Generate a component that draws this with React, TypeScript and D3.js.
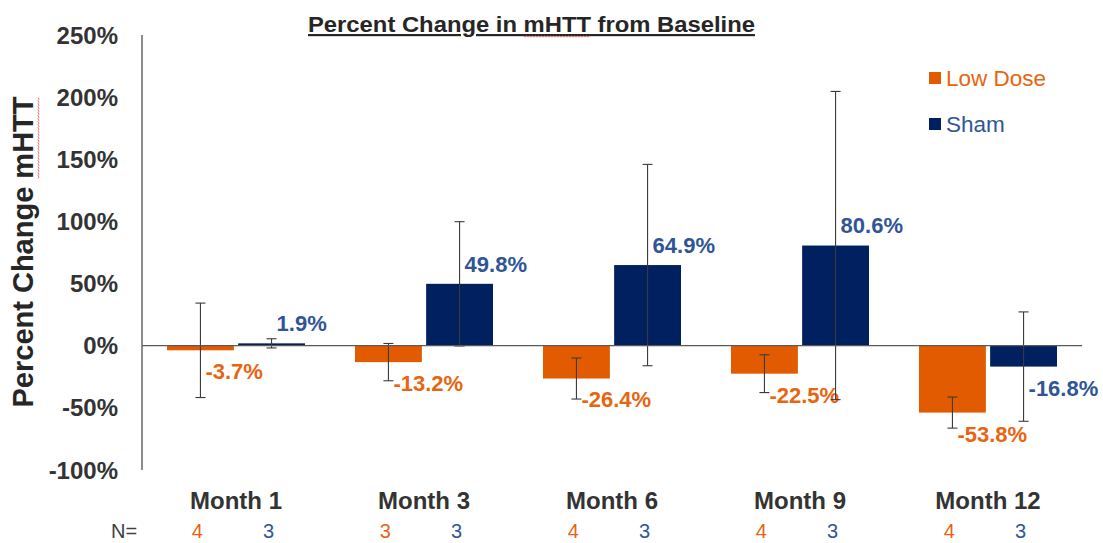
import React, { useEffect, useRef } from "react";
import * as d3 from "d3";

const months = ["Month 1", "Month 3", "Month 6", "Month 9", "Month 12"];
const seriesNames = ["Low Dose", "Sham"];
const lowDose = [-3.7, -13.2, -26.4, -22.5, -53.8];
const sham = [1.9, 49.8, 64.9, 80.6, -16.8];
const lowDoseErr = [38, 15, 16.5, 15.2, 12.5];
const shamErr = [3.7, 50, 81, 124, 44];
const lowDoseN = [4, 3, 4, 4, 4];
const shamN = [3, 3, 3, 3, 3];
const yTicks = [250, 200, 150, 100, 50, 0, -50, -100];

const ORANGE = "#E35B00";
const NAVY = "#002060";
const ORANGE_TEXT = "#E8650F";
const BLUE_TEXT = "#2F5597";
const FONT = "'Liberation Sans', Arial, sans-serif";

// red spell-check squiggle under the word "mHTT" inside a text element
function squiggle(g: any, textNode: SVGTextElement, word: string, off: number) {
  const s = textNode.textContent || "";
  const idx = s.indexOf(word);
  if (idx < 0) return;
  const a = textNode.getStartPositionOfChar(idx).x;
  const b = textNode.getEndPositionOfChar(idx + word.length - 1).x;
  const yy = textNode.getStartPositionOfChar(idx).y + off;
  const pts: [number, number][] = [];
  for (let px = a, k = 0; px <= b; px += 1.5, k++) pts.push([px, yy + (k % 2 ? 1 : 0)]);
  g.append("path")
    .attr("d", d3.line()(pts))
    .attr("fill", "none")
    .attr("stroke", "#F05050")
    .attr("stroke-width", 0.8);
}

export default function App() {
  const ref = useRef<SVGSVGElement>(null);

  useEffect(() => {
    const svg = d3.select(ref.current);
    svg.selectAll("*").remove();

    const left = 142, right = 1082, top = 35, bottom = 470;

    const x = d3.scaleBand().domain(months).range([left, right]);
    const inner = d3
      .scaleBand()
      .domain(seriesNames)
      .range([25, x.bandwidth() - 25])
      .paddingInner(0.06);
    const y = d3.scaleLinear().domain([-100, 250]).range([bottom, top]);

    const colors = [ORANGE, NAVY];
    const textColors = [ORANGE_TEXT, BLUE_TEXT];
    const values = [lowDose, sham];
    const errs = [lowDoseErr, shamErr];
    const ns = [lowDoseN, shamN];

    // title
    const tg = svg.append("g");
    const title = tg.append("text")
      .attr("x", 308).attr("y", 32)
      .attr("font-family", FONT).attr("font-weight", "bold")
      .attr("font-size", 22).attr("fill", "#262626")
      .attr("text-decoration", "underline")
      .attr("textLength", 447)
      .attr("lengthAdjust", "spacingAndGlyphs")
      .text("Percent Change in mHTT from Baseline");
    squiggle(tg, title.node() as SVGTextElement, "mHTT", 4);

    // y axis label
    const yg = svg.append("g").attr("transform", `translate(33,252) rotate(-90)`);
    const ylab = yg.append("text")
      .attr("text-anchor", "middle")
      .attr("font-family", FONT).attr("font-weight", "bold")
      .attr("font-size", 29).attr("fill", "#262626")
      .text("Percent Change mHTT");
    squiggle(yg, ylab.node() as SVGTextElement, "mHTT", 5);

    // tick labels
    svg.append("g")
      .selectAll("text")
      .data(yTicks)
      .join("text")
      .attr("x", 118)
      .attr("y", d => y(d))
      .attr("dy", "0.36em")
      .attr("text-anchor", "end")
      .attr("font-family", FONT).attr("font-weight", "bold")
      .attr("font-size", 24).attr("fill", "#333333")
      .text(d => d + "%");

    // axis line
    svg.append("line")
      .attr("x1", left).attr("x2", left)
      .attr("y1", top).attr("y2", bottom)
      .attr("stroke", "#404040").attr("stroke-width", 1.2);

    const groups = svg.append("g")
      .selectAll("g")
      .data(months)
      .join("g")
      .attr("transform", d => `translate(${x(d)},0)`);

    seriesNames.forEach((s, si) => {
      const bx = inner(s)!;
      const bw = inner.bandwidth();
      groups.append("rect")
        .attr("x", bx)
        .attr("width", bw)
        .attr("y", (d, i) => y(Math.max(0, values[si][i])))
        .attr("height", (d, i) => Math.abs(y(values[si][i]) - y(0)))
        .attr("fill", colors[si]);
    });

    // zero line
    svg.append("line")
      .attr("x1", left).attr("x2", right)
      .attr("y1", y(0)).attr("y2", y(0))
      .attr("stroke", "#595959").attr("stroke-width", 1.2);

    seriesNames.forEach((s, si) => {
      const cx = inner(s)! + inner.bandwidth() / 2;
      const eb = groups.append("g").attr("stroke", "#3a3a3a").attr("stroke-width", 1.1);
      const hi = (i: number) => y(values[si][i] + errs[si][i]);
      const lo = (i: number) => y(values[si][i] - errs[si][i]);
      eb.append("line").attr("x1", cx).attr("x2", cx)
        .attr("y1", (d, i) => hi(i)).attr("y2", (d, i) => lo(i));
      eb.append("line").attr("x1", cx - 5).attr("x2", cx + 5)
        .attr("y1", (d, i) => hi(i)).attr("y2", (d, i) => hi(i));
      eb.append("line").attr("x1", cx - 5).attr("x2", cx + 5)
        .attr("y1", (d, i) => lo(i)).attr("y2", (d, i) => lo(i));

      // value labels
      groups.append("text")
        .attr("x", cx + 5)
        .attr("y", (d, i) => {
          const v = values[si][i];
          return v >= 0 ? y(v) - 20 : y(v) + 21;
        })
        .attr("dy", "0.36em")
        .attr("font-family", FONT).attr("font-weight", "bold")
        .attr("font-size", 22).attr("fill", textColors[si])
        .text((d, i) => values[si][i].toFixed(1) + "%");

      // N row
      groups.append("text")
        .attr("x", cx - 3)
        .attr("y", 531)
        .attr("dy", "0.36em")
        .attr("text-anchor", "middle")
        .attr("font-family", FONT)
        .attr("font-size", 20).attr("fill", textColors[si])
        .text((d, i) => String(ns[si][i]));
    });

    // month labels
    groups.append("text")
      .attr("x", x.bandwidth() / 2)
      .attr("y", 500)
      .attr("dy", "0.36em")
      .attr("text-anchor", "middle")
      .attr("font-family", FONT).attr("font-weight", "bold")
      .attr("font-size", 24).attr("fill", "#333333")
      .text(d => d);

    svg.append("text")
      .attr("x", 111).attr("y", 531).attr("dy", "0.36em")
      .attr("font-family", FONT)
      .attr("font-size", 20).attr("fill", "#404040")
      .text("N=");

    // legend
    const lg = svg.append("g").attr("transform", "translate(929,72)");
    seriesNames.forEach((s, si) => {
      lg.append("rect")
        .attr("x", 0).attr("y", si * 46)
        .attr("width", 12).attr("height", 12)
        .attr("fill", colors[si]);
      lg.append("text")
        .attr("x", 17).attr("y", si * 46 + 6).attr("dy", "0.36em")
        .attr("font-family", FONT)
        .attr("font-size", 22.5).attr("fill", textColors[si])
        .text(s);
    });
  }, []);

  return (
    <svg
      ref={ref}
      width={1103}
      height={543}
      style={{ position: "absolute", left: 0, top: 0, background: "#fff" }}
    />
  );
}
